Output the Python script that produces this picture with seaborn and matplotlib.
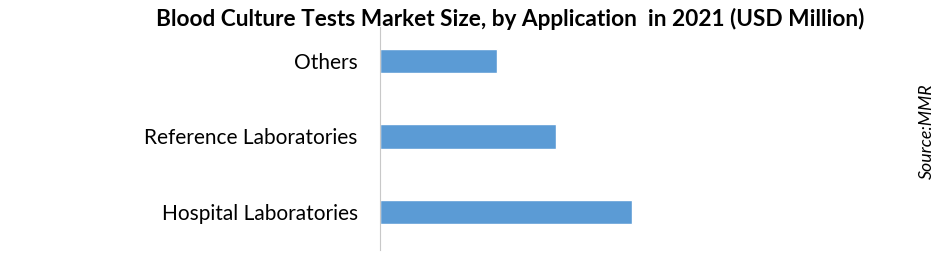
import matplotlib
matplotlib.use("Agg")
import matplotlib.pyplot as plt
import seaborn as sns
import pandas as pd

categories = ["Others", "Reference Laboratories", "Hospital Laboratories"]
values = [117, 176, 252]
title = "Blood Culture Tests Market Size, by Application  in 2021 (USD Million)"
source = "Source:MMR"

sns.set_theme(style="white")
plt.rcParams['font.family'] = ['Lato', 'DejaVu Sans']

df = pd.DataFrame({"Application": categories, "Value": values})

W, H = 941, 258
fig = plt.figure(figsize=(W / 100, H / 100), dpi=100)
ax = fig.add_axes([380 / W, 1 - 250 / H, 500 / W, (250 - 23) / H])

sns.barplot(data=df, y="Application", x="Value", order=categories,
            color="#5B9BD5", saturation=1, width=0.32, ax=ax)

ax.set_xlim(0, 500)
ax.set_ylim(2.5, -0.5)
ax.set_xlabel("")
ax.set_ylabel("")
ax.set_xticks([])
for s in ["top", "right", "bottom"]:
    ax.spines[s].set_visible(False)
ax.spines["left"].set_color("#C8C8C8")
ax.spines["left"].set_linewidth(0.8)
ax.spines["left"].set_bounds(-0.45, 2.5)
ax.tick_params(axis="y", length=0, pad=16, labelsize=15, labelcolor="#000000")

fig.text(510 / W, 1 - 19 / H, title, ha="center", va="center",
         fontsize=16.3, fontweight="bold", color="#000000")
fig.text(927 / W, 1 - 131 / H, source, ha="center", va="center",
         rotation=90, fontsize=12.8, fontstyle="italic", color="#000000")

fig.savefig("out.png", dpi=100)
